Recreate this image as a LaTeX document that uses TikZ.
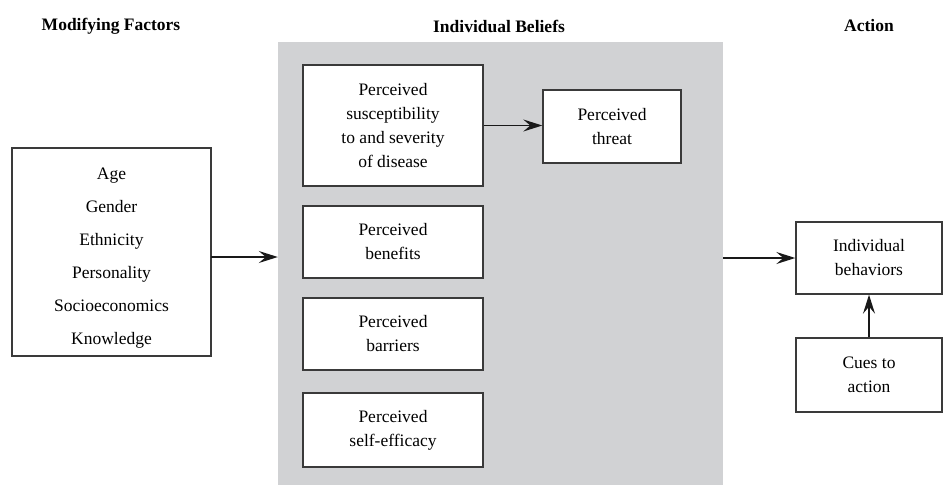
\documentclass[tikz,border=0pt]{standalone}
\usepackage{fontspec}
\setmainfont{Liberation Serif}
\usetikzlibrary{arrows.meta}
\definecolor{panelgray}{HTML}{D1D2D4}
\definecolor{edge}{HTML}{3A3A3A}
\begin{document}
\begin{tikzpicture}[x=1pt,y=-1pt,
  head/.style={font=\fontsize{17.5}{20}\selectfont\bfseries, text=black},
  box/.style={draw=edge, line width=1.4pt, fill=white, align=center, inner sep=0pt,
    font=\fontsize{17.5}{24}\selectfont, text=black},
  arr/.style={draw=black!90, line width=1.4pt, -{Stealth[length=19pt,width=12pt,inset=7pt]}}]
\useasboundingbox (0,0) rectangle (944,485);
\fill[white] (0,0) rectangle (944,485);
\node[head] (hmod) at (111,26) {Modifying Factors};
\node[head] (hbel) at (499,26) {Individual Beliefs};
\node[head] (hact) at (869,26) {Action};
\node[fill=panelgray, minimum width=445pt, minimum height=443pt, inner sep=0pt] (panel) at (500.5,263.5) {};
\node[box, minimum width=199pt, minimum height=208pt, font=\fontsize{17.5}{33}\selectfont] (mods) at (111.5,252)
  {\rule{0pt}{23pt}Age\\Gender\\Ethnicity\\Personality\\Socioeconomics\\Knowledge};
\node[box, minimum width=180pt, minimum height=121pt] (s1) at (393,125.5)
  {Perceived\\susceptibility\\to and severity\\of disease};
\node[box, minimum width=138pt, minimum height=73pt] (threat) at (612,126.5) {Perceived\\threat};
\node[box, minimum width=180pt, minimum height=72pt] (s2) at (393,242) {Perceived\\benefits};
\node[box, minimum width=180pt, minimum height=72pt] (s3) at (393,334) {Perceived\\barriers};
\node[box, minimum width=180pt, minimum height=74pt] (s4) at (393,430) {Perceived\\self-efficacy};
\node[box, minimum width=146pt, minimum height=72pt] (beh) at (869,258) {Individual\\behaviors};
\node[box, minimum width=146pt, minimum height=74pt] (cues) at (869,375) {Cues to\\action};
\coordinate (a1) at (211,257);
\draw[arr] (a1) -- (a1 -| panel.west);
\draw[arr] (s1.east) -- (s1.east -| threat.west);
\draw[arr] (panel.east |- beh.west) -- (beh.west);
\draw[arr] (cues.north) -- (beh.south);
\end{tikzpicture}
\end{document}
